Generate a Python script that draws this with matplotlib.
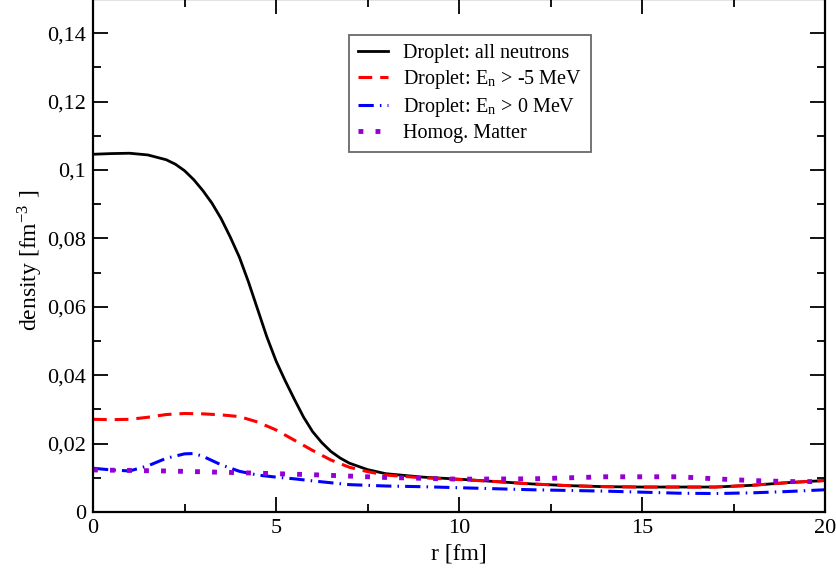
import matplotlib
matplotlib.use('Agg')
import matplotlib.pyplot as plt
from matplotlib.ticker import MultipleLocator, FuncFormatter

plt.rcParams['font.family'] = ['Liberation Serif', 'DejaVu Serif']
plt.rcParams['mathtext.fontset'] = 'stix'

# black: all neutrons
r_all = [0, 0.5, 1, 1.5, 2, 2.25, 2.5, 2.75, 3, 3.25, 3.5, 3.75, 4, 4.25,
         4.5, 4.75, 5, 5.25, 5.5, 5.75, 6, 6.25, 6.5, 6.75, 7, 7.5, 8,
         9, 10, 11, 12, 13, 14, 15, 16, 17, 18, 19, 20]
d_all = [0.1046, 0.1048, 0.1049, 0.1044, 0.1030, 0.1017, 0.0998, 0.0972,
         0.0940, 0.0903, 0.0858, 0.0804, 0.0745, 0.0672, 0.0592, 0.0512,
         0.0442, 0.0384, 0.0330, 0.0278, 0.0235, 0.0203, 0.0177, 0.0158,
         0.0143, 0.0124, 0.0112, 0.0102, 0.0096, 0.0089, 0.0082, 0.0077,
         0.0074, 0.0073, 0.0073, 0.0073, 0.0078, 0.0086, 0.0092]

# red: E_n > -5 MeV
r_m5 = [0, 0.5, 1, 1.5, 2, 2.5, 3, 3.5, 4, 4.5, 5, 5.5, 6, 6.5, 7, 7.5, 8,
        9, 10, 11, 12, 13, 14, 15, 16, 17, 18, 19, 20]
d_m5 = [0.0271, 0.0270, 0.0271, 0.0277, 0.0285, 0.0288, 0.0287, 0.0284,
        0.0279, 0.0263, 0.0240, 0.0210, 0.0180, 0.0152, 0.0131, 0.0118,
        0.0108, 0.0100, 0.0095, 0.0089, 0.0082, 0.0077, 0.0074, 0.0073,
        0.0073, 0.0073, 0.0078, 0.0086, 0.0092]

# blue: E_n > 0 MeV
r_0 = [0, 0.5, 1, 1.5, 2, 2.5, 2.75, 3, 3.5, 4, 4.5, 5, 5.5, 6, 7, 8, 9, 10,
       11, 12, 13, 14, 15, 16, 17, 18, 19, 20]
d_0 = [0.0128, 0.0123, 0.0120, 0.0135, 0.0157, 0.0170, 0.0171, 0.0163,
       0.0138, 0.0119, 0.0108, 0.0102, 0.0097, 0.0091, 0.0080, 0.0076,
       0.0074, 0.0071, 0.0068, 0.0065, 0.0063, 0.0061, 0.0058, 0.0055,
       0.0054, 0.0056, 0.0060, 0.0065]

# violet: homogeneous matter
r_hom = [0, 2, 4, 6, 8, 10, 12, 14, 16, 17, 18, 19, 20]
d_hom = [0.0123, 0.0120, 0.0115, 0.0109, 0.0101, 0.0096, 0.0097, 0.0103,
         0.0103, 0.0097, 0.0092, 0.0089, 0.0089]

fig = plt.figure(figsize=(8.36, 5.68), dpi=100)
ax = fig.add_axes([93/836, 56/568, 732/836, 513/568])

ax.plot(r_all, d_all, color='black', lw=2.0, label='Droplet: all neutrons')
ax.plot(r_m5, d_m5, color='#ff0000', lw=2.2, dashes=(4.5, 2.6),
        label=r'Droplet: E$_\mathregular{n}$ > -5 MeV')
ax.plot(r_0, d_0, color='#0000ff', lw=2.2, dashes=(5, 2, 0.5, 2),
        label=r'Droplet: E$_\mathregular{n}$ > 0 MeV')
ax.plot(r_hom, d_hom, color='#9400d3', lw=3.5, dashes=(1, 2.5),
        label='Homog. Matter')

ax.set_xlim(0, 20)
ax.set_ylim(0, 0.15)
ax.xaxis.set_major_locator(MultipleLocator(5))
ax.xaxis.set_minor_locator(MultipleLocator(2.5))
ax.yaxis.set_major_locator(MultipleLocator(0.02))
ax.yaxis.set_minor_locator(MultipleLocator(0.01))
ax.yaxis.set_major_formatter(FuncFormatter(lambda v, p: ('%g' % round(v, 4)).replace('.', ',')))

ax.tick_params(which='both', direction='in', top=True, right=True,
               labelsize=16, width=1.3)
ax.tick_params(which='major', length=11, pad=5)
ax.tick_params(which='minor', length=6)
for s in ax.spines.values():
    s.set_linewidth(1.6)

ax.set_xlabel('r [fm]', fontsize=17, labelpad=4)
ax.set_ylabel(r'density [fm$^\mathregular{-3}$ ]', fontsize=17)
ax.yaxis.set_label_coords(-0.066, 0.49)

leg = ax.legend(loc='upper left', bbox_to_anchor=(349/836, 533/568),
                bbox_transform=fig.transFigure, fontsize=14.5, frameon=True,
                fancybox=False, borderaxespad=0, handlelength=1.5,
                handletextpad=0.75, labelspacing=0.25, borderpad=0.45)
leg.get_frame().set_edgecolor('#444444')
leg.get_frame().set_linewidth(1.3)

fig.savefig('out.png', dpi=100)
